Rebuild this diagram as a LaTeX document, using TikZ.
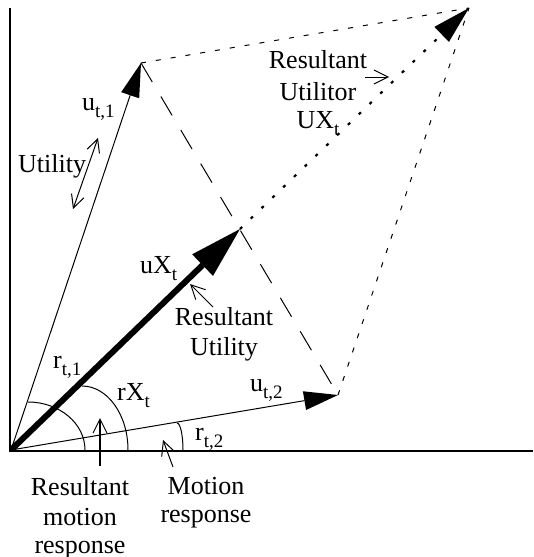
\documentclass[tikz,border=0pt]{standalone}
\usepackage{fontspec}
\setmainfont{Liberation Serif}
\usetikzlibrary{arrows.meta}
\newcommand{\lowsub}[1]{\raisebox{-0.27em}{\fontsize{19}{19}\selectfont #1}}

\begin{document}
\begin{tikzpicture}[
        x=1pt, y=-1pt,
        lbl/.style={inner sep=0pt, font=\fontsize{26}{28}\selectfont},
        axis/.style={line width=2pt},
        vec/.style={line width=1pt, -{Triangle[length=34pt,width=19pt,line width=0pt]}},
        sumvec/.style={line width=6pt, -{Triangle[length=52pt,width=30pt,line width=0pt]}},
        diag/.style={line width=1pt, dash pattern=on 22pt off 17pt},
        side/.style={line width=1pt, dash pattern=on 5pt off 10pt},
        ray/.style={line width=2.2pt, dash pattern=on 3pt off 12pt, -{Triangle[length=38pt,width=21pt,line width=0pt]}},
        ptr/.style={line width=1pt, -{Straight Barb[length=14pt,width=14pt]}},
        dptr/.style={line width=1pt, {Straight Barb[length=13pt,width=13pt]}-{Straight Barb[length=13pt,width=13pt]}},
        angarc/.style={line width=1pt}
    ]
        \useasboundingbox (0,0) rectangle (533,557);

        \coordinate (O) at (11,450);
        \coordinate (U1) at (141,63);
        \coordinate (U2) at (338,395);
        \coordinate (UX) at (469,8);
        \coordinate (M) at (240,229);
        \coordinate (ytop) at (10,8);
        \coordinate (xend) at (533,451);

        \draw[axis] (ytop) |- (xend);

        \draw[side] (U1) -- (UX);
        \draw[side] (U2) -- (UX);
        \draw[diag] (U1) -- (U2);
        \draw[ray] (M) -- (UX);

        \draw[vec] (O) -- (U1);
        \draw[vec] (O) -- (U2);
        \draw[sumvec] (O) -- (M);

        \draw[angarc] (28,402) arc[start angle=90, end angle=0, x radius=57pt, y radius=48pt];
        \draw[angarc] (82,386) arc[start angle=90, end angle=0, x radius=46pt, y radius=64pt];
        \draw[angarc] (177,423) arc[start angle=90, end angle=0, x radius=6pt, y radius=27pt];

        \node[lbl, anchor=base west] (ut1) at (82,110) {u\lowsub{t,1}};
        \node[lbl, anchor=base west] (util) at (18,172) {Utility};
        \node[lbl, anchor=base west] (rt1) at (53,368) {r\lowsub{t,1}};
        \node[lbl, anchor=base west] (rxt) at (117,400) {rX\lowsub{t}};
        \node[lbl, anchor=base west] (uxt) at (140,273) {uX\lowsub{t}};
        \node[lbl, anchor=base west] (ut2) at (250,391) {u\lowsub{t,2}};
        \node[lbl, anchor=base west] (rt2) at (195,440) {r\lowsub{t,2}};
        \node[lbl, anchor=north, align=center] (resutilor) at (318,50) {Resultant\\[4pt]Utilitor\\UX\lowsub{t}};
        \node[lbl, anchor=north, align=center] (resutil) at (224,307) {Resultant\\[2pt]Utility};
        \node[lbl, anchor=north, align=center] (resmot) at (80,477) {Resultant\\[2pt]motion\\response};
        \node[lbl, anchor=north, align=center] (motresp) at (206,477) {Motion\\response};

        \coordinate (utilA) at (98,138);
        \coordinate (utilB) at (73,209);
        \coordinate (pA) at (365,77);
        \coordinate (pB) at (389,77);
        \coordinate (pC) at (213,307);
        \coordinate (pD) at (190,284);
        \coordinate (pE) at (100,466);
        \coordinate (pF) at (100,418);
        \coordinate (pG) at (173,467);
        \coordinate (pH) at (163,440);

        \draw[dptr] (utilA) -- (utilB);
        \draw[ptr] (pA) -- (pB);
        \draw[ptr] (pC) -- (pD);
        \draw[ptr, line width=2pt, -{Straight Barb[length=14pt,width=14pt,line width=1pt]}] (pE) -- (pF);
        \draw[ptr] (pG) -- (pH);
\end{tikzpicture}
\end{document}
